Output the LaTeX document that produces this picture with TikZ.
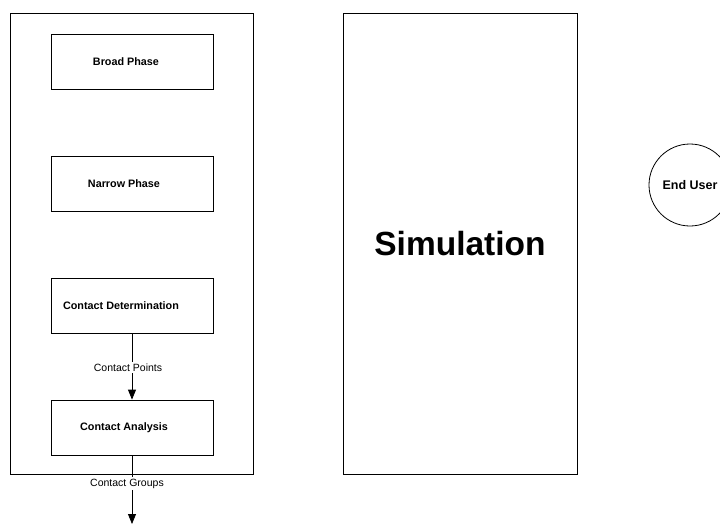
\documentclass[tikz,border=0pt]{standalone}
\usepackage{fontspec}
\setmainfont{Liberation Sans}
\usetikzlibrary{arrows.meta}
\begin{document}
\begin{tikzpicture}[x=1pt,y=-1pt,
  frame/.style={draw,line width=1pt,minimum width=#1,inner sep=0pt},
  stage/.style={draw,line width=0.8pt,minimum width=162pt,minimum height=55pt,inner sep=0pt},
  stagelbl/.style={font=\fontsize{10.8}{12}\selectfont\bfseries},
  flow/.style={line width=0.8pt,-{Triangle[length=10pt,width=8pt]}},
  flowlbl/.style={fill=white,inner sep=1.5pt,font=\fontsize{10.5}{12}\selectfont},
  actor/.style={draw,circle,line width=0.8pt,minimum size=82pt,inner sep=0pt,
    font=\fontsize{12.5}{14}\selectfont\bfseries}]
\useasboundingbox (0,0) rectangle (720,525);
\fill[white] (0,0) rectangle (720,525);

% collision detection pipeline container
\node[frame=243pt,minimum height=461pt] (pipe) at (131.5,243.5) {};

% pipeline stages
\node[stage,label={[stagelbl,xshift=-6pt]center:Broad Phase}] (bp) at (132,61.5) {};
\node[stage,label={[stagelbl,xshift=-8pt]center:Narrow Phase}] (np) at (132,183.5) {};
\node[stage,label={[stagelbl,xshift=-11pt]center:Contact Determination}] (cd) at (132,305.5) {};
\node[stage,label={[stagelbl,xshift=-8pt]center:Contact Analysis}] (ca) at (132,427.5) {};

% simulation block
\node[frame=234pt,minimum height=461pt,
  font=\fontsize{33.5}{38}\selectfont\bfseries] (sim) at (460,243.5) {Simulation};

% end user
\node[actor] (user) at (690,185) {End User};

% data flow
\coordinate (out) at (132,524);
\draw[flow] (cd.south) -- node[flowlbl,xshift=-4pt,pos=0.52] {Contact Points} (ca.north);
\draw[flow] (ca.south) -- node[flowlbl,xshift=-5pt,pos=0.41] {Contact Groups} (out);
\end{tikzpicture}
\end{document}
